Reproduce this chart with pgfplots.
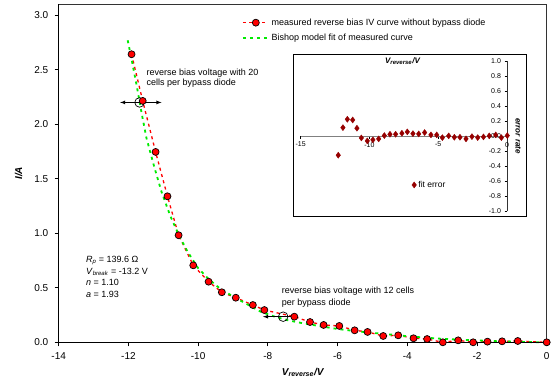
\documentclass[border=0pt]{standalone}
\usepackage{fontspec}
\setmainfont{Liberation Sans}
\usepackage{pgfplots}
\pgfplotsset{compat=1.18}
\definecolor{myred}{RGB}{255,0,0}
\definecolor{mygreen}{RGB}{0,235,0}
\definecolor{errred}{RGB}{150,0,0}

\pgfplotstableread{
x y
-11.91 2.642
-11.59 2.214
-11.22 1.746
-10.88 1.339
-10.56 0.982
-10.14 0.706
-9.70 0.556
-9.32 0.459
-8.92 0.409
-8.43 0.342
-8.10 0.296
-7.24 0.235
-6.79 0.186
-6.40 0.159
-5.95 0.150
-5.51 0.110
-5.14 0.095
-4.69 0.058
-4.26 0.064
-3.82 0.037
-3.43 0.030
-2.98 0.000
-2.54 0.018
-2.11 0.000
-1.70 0.006
-1.28 0.009
-0.83 0.012
0.00 0.000
}\measured

\pgfplotstableread{
x y
-12.02 2.77
-11.90 2.58
-11.76 2.35
-11.62 2.10
-11.48 1.87
-11.26 1.61
-11.05 1.38
-10.80 1.16
-10.55 0.98
-10.30 0.83
-10.00 0.68
-9.70 0.58
-9.40 0.50
-9.00 0.42
-8.60 0.35
-8.20 0.28
-7.80 0.235
-7.40 0.20
-7.00 0.175
-6.50 0.148
-6.00 0.122
-5.50 0.103
-5.00 0.087
-4.50 0.072
-4.00 0.056
-3.50 0.043
-3.00 0.032
-2.50 0.024
-2.00 0.017
-1.50 0.011
-1.00 0.006
-0.50 0.002
0.00 0.000
}\bishop

\pgfplotstableread{
x y
-12.27 -0.254
-11.93 0.113
-11.61 0.224
-11.22 0.215
-10.91 0.105
-10.59 -0.024
-10.16 -0.064
-9.75 -0.050
-9.33 -0.037
-8.92 0.007
-8.51 0.025
-8.10 0.025
-7.64 0.038
-7.25 0.056
-6.84 0.033
-6.42 0.029
-5.99 0.047
-5.53 0.016
-5.11 0.016
-4.70 -0.020
-4.24 0.003
-3.83 -0.015
-3.42 -0.015
-2.98 -0.037
-2.55 -0.007
-2.13 -0.020
-1.71 -0.011
-1.29 0.003
-0.82 0.016
-0.41 -0.020
0.02 0.007
}\fiterror

\begin{document}
\begin{tikzpicture}
\useasboundingbox (-58.7pt,-43.7pt) rectangle (494.3pt,342.3pt);
\begin{axis}[
  scale only axis, width=488pt, height=338pt,
  xmin=-14, xmax=0, ymin=0, ymax=3.1,
  xtick={-14,-12,-10,-8,-6,-4,-2,0},
  ytick={0,0.5,1,1.5,2,2.5,3},
  xtick pos=bottom, ytick pos=left, tick align=outside,
  major tick length=4pt,
  axis line style={draw=black!80, line width=0.7pt},
  tick style={black, line width=0.7pt},
  /pgf/number format/assume math mode=true,
  yticklabel style={/pgf/number format/fixed, /pgf/number format/fixed zerofill, /pgf/number format/precision=1, xshift=-3pt},
  xticklabel style={yshift=-3pt},
  ticklabel style={font=\fontsize{10}{12}\selectfont},
  xlabel={\bfseries\itshape V\textsubscript{reverse}/V},
  ylabel={\bfseries\itshape I/A},
  xlabel style={yshift=-1pt},
  ylabel style={yshift=5pt},
  label style={font=\fontsize{10}{12}\selectfont},
  clip=false,
  legend cell align=left,
  legend style={at={(0.373,0.967)}, anchor=north west, draw=none, fill=none,
    font=\fontsize{9}{11}\selectfont, row sep=3pt, inner sep=1pt},
  legend image code/.code={\draw[mark repeat=2,mark phase=2,#1] plot coordinates {(0pt,0pt) (13pt,0pt) (26pt,0pt)};},
]
\addplot[color=myred, line width=1.3pt, dash pattern=on 3pt off 3.5pt,
  mark=*, mark size=3.5pt, mark options={solid, fill=myred, draw=black, line width=0.7pt}]
  table[x=x,y=y] {\measured};
\addlegendentry{measured reverse bias IV curve without bypass diode}
\addplot[color=mygreen, line width=1.8pt, dash pattern=on 3pt off 4pt, no marks]
  table[x=x,y=y] {\bishop};
\addlegendentry{Bishop model fit of measured curve}

\draw[line width=1.6pt, black] (rel axis cs:0,1) -- (rel axis cs:0,0) -- (rel axis cs:1,0);

\draw[<->, >=latex, line width=0.8pt] (axis cs:-12.24,2.2) -- (axis cs:-11.05,2.2);
\draw[line width=0.7pt] (axis cs:-11.68,2.2) circle[radius=4.8pt];
\node[anchor=north west, align=left, inner sep=0pt, font=\fontsize{9}{10.5}\selectfont]
  at (axis cs:-11.48,2.51) {reverse bias voltage with 20\\cells per bypass diode};

\draw[->, >=latex, line width=0.8pt] (axis cs:-7.24,0.235) -- (axis cs:-8.14,0.235);
\draw[line width=0.7pt] (axis cs:-7.56,0.235) circle[radius=4.8pt];
\node[anchor=north west, align=left, inner sep=0pt, font=\fontsize{9}{11.5}\selectfont]
  at (axis cs:-7.60,0.507) {reverse bias voltage with 12 cells\\per bypass diode};

\node[anchor=north west, align=left, inner sep=0pt, font=\fontsize{9}{11.6}\selectfont]
  at (axis cs:-13.22,0.79) {\textit{R}\textsubscript{\textit{p}} = 139.6 Ω\\
  \textit{V}\textsubscript{\textit{break}} = -13.2 V\\
  \textit{n} = 1.10\\
  \textit{a} = 1.93};
\end{axis}

\begin{axis}[
  at={(242pt,131pt)}, anchor=south west,
  scale only axis, width=206.3pt, height=150.4pt,
  xmin=-15, xmax=0, ymin=-1, ymax=1,
  axis lines=middle,
  x axis line style={-, draw=gray, line width=1.2pt},
  y axis line style={-, draw=black!80, line width=0.7pt},
  xtick={-15,-10,-5,0},
  ytick={-1,-0.8,-0.6,-0.4,-0.2,0,0.2,0.4,0.6,0.8,1},
  hide obscured x ticks=false, hide obscured y ticks=false,
  tick align=outside, major tick length=2.5pt,
  tick style={black, line width=0.5pt},
  /pgf/number format/assume math mode=true,
  yticklabel style={/pgf/number format/fixed, /pgf/number format/fixed zerofill, /pgf/number format/precision=1},
  ticklabel style={font=\fontsize{7}{8}\selectfont},
  clip=false,
  legend style={at={(axis cs:-7.0,-0.65)}, anchor=west, draw=none, fill=none,
    font=\fontsize{8.5}{10}\selectfont, inner sep=1pt},
  legend image code/.code={\draw[#1] plot coordinates {(3pt,0pt)};},
]
\draw[line width=0.8pt] ([xshift=-7.4pt,yshift=-5.4pt]rel axis cs:0,0) rectangle ([xshift=19.7pt,yshift=6pt]rel axis cs:1,1);
\addplot[only marks, mark=diamond*, mark size=3pt, color=errred] table[x=x,y=y] {\fiterror};
\addlegendentry{fit error}
\node[font=\bfseries\itshape\fontsize{8}{9}\selectfont] at (axis cs:-7.6,1.0) {V\textsubscript{reverse}/V};
\node[rotate=-90, font=\bfseries\itshape\fontsize{8}{9}\selectfont] at ([xshift=11.3pt]rel axis cs:1,0.5) {error rate};
\end{axis}
\end{tikzpicture}
\end{document}
